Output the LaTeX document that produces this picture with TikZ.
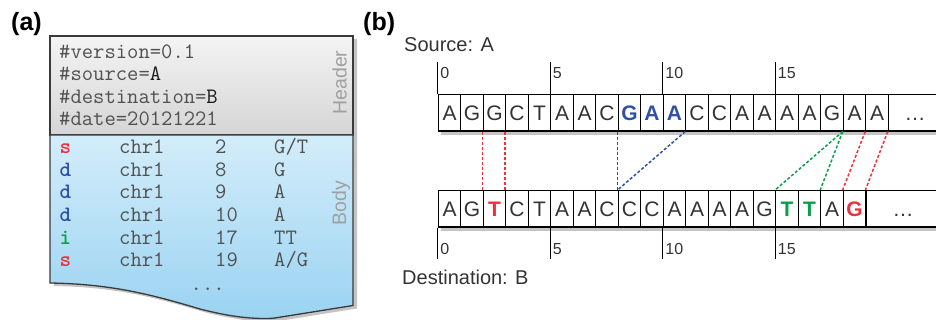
\documentclass[tikz,border=0pt]{standalone}
\usepackage{fontspec}
\setmainfont{Liberation Sans}
\newfontfamily\mbold{lmmonolt10-bold.otf}
\definecolor{txt}{HTML}{333333}
\definecolor{mono}{HTML}{505050}
\definecolor{monodark}{HTML}{1A1A1A}
\definecolor{myred}{HTML}{EE2F3C}
\definecolor{myblue}{HTML}{2F50A4}
\definecolor{mygreen}{HTML}{0A9F4A}
\definecolor{hdrtop}{HTML}{F4F4F4}
\definecolor{hdrbot}{HTML}{D5D5D5}
\definecolor{bodytop}{HTML}{D3EDFA}
\definecolor{bodybot}{HTML}{9AD3F2}
\definecolor{framec}{HTML}{3A3A3A}
\definecolor{shadowc}{HTML}{C4C4C4}
\definecolor{sidec}{HTML}{A0A0A0}
\newcommand\hB[1]{\textcolor{myblue}{\bfseries #1}}
\newcommand\hR[1]{\textcolor{myred}{\bfseries #1}}
\newcommand\hG[1]{\textcolor{mygreen}{\bfseries #1}}
\begin{document}
\begin{tikzpicture}[x=1pt,y=-1pt,
  cell/.style={draw=black, line width=1.2pt, minimum width=22.5pt, minimum height=36.5pt,
    inner sep=0pt, text height=15pt, text depth=0pt, font=\fontsize{21}{21}\selectfont, text=txt},
  conn/.style={dash pattern=on 3pt off 2pt, line width=1.5pt},
  tick/.style={line width=1.2pt, draw=black},
  ticklab/.style={anchor=base west, inner sep=0pt, font=\fontsize{16}{16}\selectfont, text=txt},
  plabel/.style={anchor=base west, inner sep=0pt, font=\fontsize{25}{25}\selectfont\bfseries, text=black},
  seqlabel/.style={anchor=base west, inner sep=0pt, font=\fontsize{20}{20}\selectfont, text=txt},
  mtext/.style={anchor=base west, inner sep=0pt, font=\fontsize{22}{22}\selectfont\ttfamily, text=mono},
  mcode/.style={anchor=base west, inner sep=0pt, font=\fontsize{22}{22}\selectfont\mbold},
  sidelab/.style={anchor=base, rotate=90, inner sep=0pt, font=\fontsize{19.5}{19.5}\selectfont, text=sidec},
  rowshadow/.style={fill=shadowc, draw=none}
]
\useasboundingbox (0,0) rectangle (936,320);

% ---------- panel (a) ----------
\node[plabel] (la) at (11,31) {(a)};
\fill[shadowc, shift={(4,3)}] (50,36) -- (353,36) -- (353,305.5) -- (273,318.3)
   .. controls (255,319) and (235,318) .. (200,309)
   .. controls (150,294) and (110,284) .. (50,283) -- cycle;
\path[top color=hdrtop, bottom color=hdrbot, draw=framec, line width=1.3pt]
   (50,36) rectangle (353,135);
\path[top color=bodytop, bottom color=bodybot, draw=framec, line width=1.3pt]
   (50,135) -- (353,135) -- (353,305.5) -- (273,318.3)
   .. controls (255,319) and (235,318) .. (200,309)
   .. controls (150,294) and (110,284) .. (50,283) -- cycle;

\node[mtext] (h1) at (59,58.5) {\#version=0.1};
\node[mtext] (h2) at (59,81) {\#source=\textcolor{monodark}{A}};
\node[mtext] (h3) at (59,103.5) {\#destination=\textcolor{monodark}{B}};
\node[mtext] (h4) at (59,125.5) {\#date=20121221};
\node[sidelab] (hdr) at (346.5,82.5) {Header};
\node[sidelab] (bdy) at (346,203) {Body};

\foreach \code/\col/\num/\val [count=\r from 0] in
   {s/myred/2/{G/T}, d/myblue/8/G, d/myblue/9/A, d/myblue/10/A, i/mygreen/17/TT, s/myred/19/{A/G}}{
  \pgfmathsetmacro\yy{154+22.5*\r}
  \node[mcode, text=\col] (c\r) at (59.5,\yy) {\code};
  \node[mtext] (chr\r) at (119,\yy) {chr1};
  \node[mtext] (n\r) at (215,\yy) {\num};
  \node[mtext] (v\r) at (274,\yy) {\val};
}
\node[mtext] (bdots) at (190.5,290) {...};

% ---------- panel (b) ----------
\node[plabel] (lb) at (363,31) {(b)};
\node[seqlabel] (src) at (404,51.7) {Source: A};
\node[seqlabel] (dst) at (402,284.3) {Destination: B};

\fill[rowshadow] (441,131) rectangle (940,135.5);
\fill[rowshadow] (441,226.5) rectangle (940,231);

\foreach \c [count=\i from 0] in {A,G,G,C,T,A,A,C,\hB{G},\hB{A},\hB{A},C,C,A,A,A,A,G,A,A}{
  \node[cell] (s\i) at ({449.55+22.5*\i},112.75) {\c};
}
\node[cell, minimum width=53.4pt] (s20) at (915,112.75) {…};

\foreach \c [count=\i from 0] in {A,G,\hR{T},C,T,A,A,C,C,C,A,A,A,A,G,\hG{T},\hG{T},A,\hR{G}}{
  \node[cell] (d\i) at ({449.55+22.5*\i},208.75) {\c};
}
\node[cell, minimum width=74pt] (d19) at (903,208.75) {…};

% ticks
\foreach \k/\lab in {0/0,5/5,10/10,15/15}{
  \draw[tick] (s\k.north west) -- ++(0,-31.5) coordinate (st\k);
  \node[ticklab] (stl\k) at ([xshift=2.5pt]s\k.north west |- 0,79) {\lab};
  \draw[tick] (d\k.south west) -- ++(0,31) coordinate (dt\k);
  \node[ticklab] (dtl\k) at ([xshift=2.5pt]d\k.south west |- 0,254.5) {\lab};
}

% connectors
\draw[conn, myred] (s2.south west) -- (d2.north west);
\draw[conn, myred] (s3.south west) -- (d3.north west);
\draw[conn, myblue] (s8.south west) -- (d8.north west);
\draw[conn, myblue] (s11.south west) -- (d8.north west);
\draw[conn, mygreen] (s18.south west) -- (d15.north west);
\draw[conn, mygreen] (s18.south west) -- (d17.north west);
\draw[conn, myred] (s19.south west) -- (d18.north west);
\draw[conn, myred] (s20.south west) -- (d19.north west);
\end{tikzpicture}
\end{document}
